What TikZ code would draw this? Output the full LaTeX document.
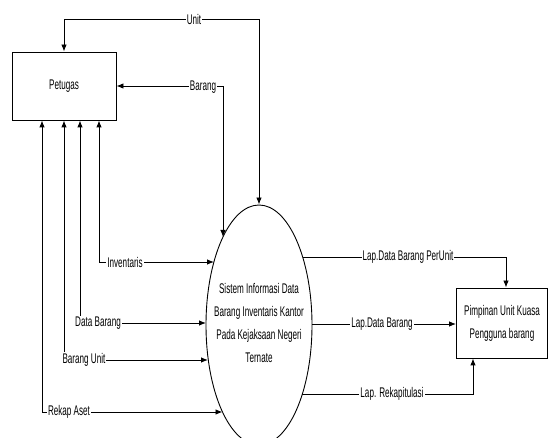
\documentclass[tikz,border=0pt]{standalone}
\usepackage{fontspec}
\setmainfont{Liberation Sans}[FakeStretch=0.58]
\usetikzlibrary{arrows.meta,shapes.geometric}

\begin{document}
\begin{tikzpicture}[x=1pt, y=-1pt, font=\fontsize{14}{23}\selectfont,
    flow/.style={line width=0.9pt, -{Latex[length=7pt,width=5.5pt]}},
    duo/.style={line width=0.9pt, {Latex[length=7pt,width=5.5pt]}-{Latex[length=7pt,width=5.5pt]}},
    lbl/.style={fill=white, inner sep=1pt},
    ent/.style={draw, line width=0.9pt, align=center}]

    % Canvas follows the pixel grid of the drawing, y pointing down
    \useasboundingbox (0,0) rectangle (549,438);

    % External entities
    \node[ent, minimum width=104, minimum height=68] (petugas) at (64,86) {Petugas};
    \node[ent, minimum width=91, minimum height=70] (pimpinan) at (502,323)
      {Pimpinan Unit Kuasa\\Pengguna barang};

    % Process: ellipse 106 x 240, text set on top of it
    \node[draw, ellipse, line width=0.9pt, minimum width=106, minimum height=240,
      inner sep=0pt] (sistem) at (259,325) {};
    \node[align=center] (sistemtxt) at (259,323)
      {Sistem Informasi Data\\Barang Inventaris Kantor\\Pada Kejaksaan Negeri\\Ternate};

    % Points on the ellipse: x = 259 -+ 53*sqrt(1-((y-325)/120)^2)
    \coordinate (eInv) at (214,262);
    \coordinate (eDat) at (206,323);
    \coordinate (eUni) at (208,360);
    \coordinate (eRek) at (222.5,412);
    \coordinate (eBar) at (223,237);
    \coordinate (ePer) at (302.7,257);
    \coordinate (eLap) at (312,324);
    \coordinate (eRkp) at (302.4,394);
    \coordinate (cUnit) at (259,19);

    % Flows between Petugas and the process
    \draw[duo] (petugas.north) |- (cUnit) -- (sistem.north);
    \draw[duo] (petugas.east) -| (eBar);
    \foreach \x/\e in {99/eInv, 80/eDat, 64/eUni, 42/eRek} {
      \draw[duo] (\x,0 |- petugas.south) |- (\e);
    }

    % Reports to Pimpinan
    \draw[flow] (ePer) -| (506,0 |- pimpinan.north);
    \draw[flow] (eLap) -- (eLap -| pimpinan.west);
    \draw[flow] (eRkp) -| (473,0 |- pimpinan.south);

    % Flow labels
    \node[lbl] (lUnit) at (194,19) {Unit};
    \node[lbl] (lBar) at (203,87) {Barang};
    \node[lbl] (lInv) at (125,262) {Inventaris};
    \node[lbl] (lDat) at (98,323) {Data Barang};
    \node[lbl] (lUni) at (84,360) {Barang Unit};
    \node[lbl] (lRek) at (69,412) {Rekap Aset};
    \node[lbl] (lPer) at (408,257) {Lap.Data Barang PerUnit};
    \node[lbl] (lLap) at (382,324) {Lap.Data Barang};
    \node[lbl] (lRkp) at (392,394) {Lap. Rekapitulasi};

\end{tikzpicture}
\end{document}
